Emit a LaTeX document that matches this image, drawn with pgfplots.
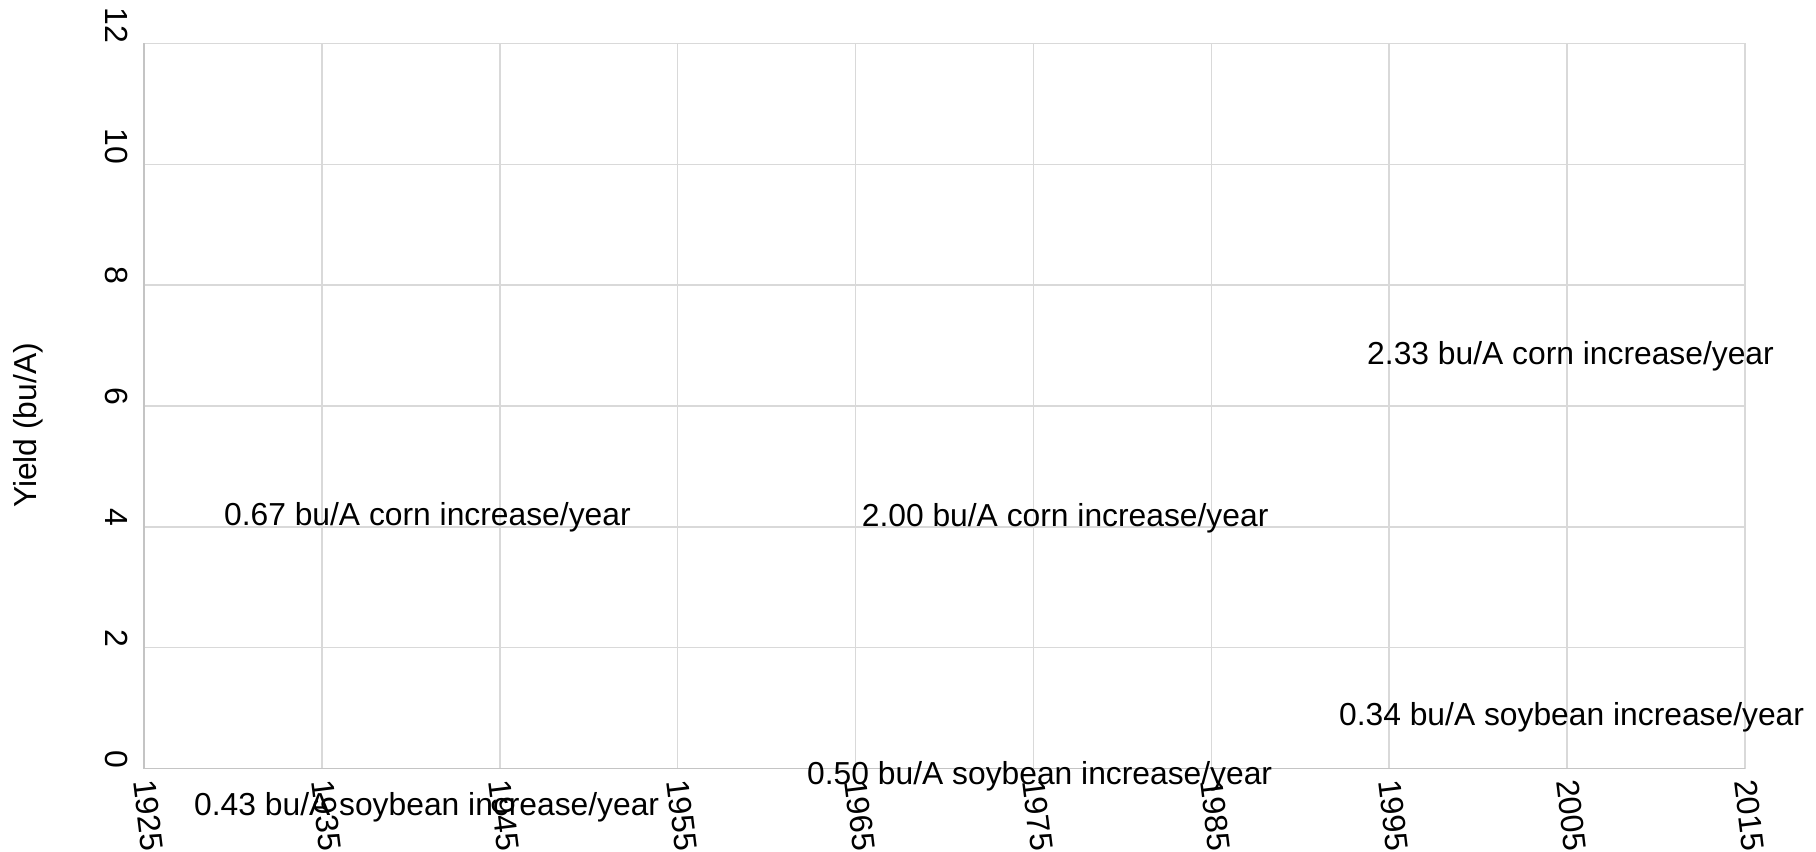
\documentclass[border=0pt]{standalone}
\usepackage{pgfplots}
\pgfplotsset{compat=1.18}
\usepackage{fontspec}
\setmainfont{Liberation Sans}
\definecolor{gridc}{HTML}{D9D9D9}
\definecolor{axisc}{HTML}{C4C4C4}
\begin{document}
\begin{tikzpicture}
\begin{axis}[
 scale only axis, width=800.5pt, height=362.5pt,
 xmin=1925, xmax=2015, ymin=0, ymax=12,
 xtick={1925,1935,...,2015}, ytick={0,2,...,12},
 axis x line=bottom, axis y line=left,
 axis line style={draw=axisc, line width=0.8pt, -},
 grid=major, major grid style={draw=gridc, line width=0.8pt},
 major tick length=0pt,
 /pgf/number format/assume math mode=true,
 /pgf/number format/1000 sep={},
 tick label style={font=\fontsize{16}{18}\selectfont, inner sep=0pt, text=black},
 xticklabel style={rotate=-83, anchor=west},
 yticklabel style={rotate=-90, anchor=north east},
 xticklabel shift=5.5pt, yticklabel shift=8pt,
 ylabel={Yield (bu/A)},
 ylabel style={at={(axis description cs:-0.0721,0.4731)}, anchor=center, font=\fontsize{15.9}{18}\selectfont},
 clip=false,
]
\node[anchor=base west, inner sep=0pt, font=\fontsize{15.9}{18}\selectfont] at (axis cs:1929.48,4.03) {0.67 bu/A corn increase/year};
\node[anchor=base west, inner sep=0pt, font=\fontsize{15.9}{18}\selectfont] at (axis cs:1965.33,4.00) {2.00 bu/A corn increase/year};
\node[anchor=base west, inner sep=0pt, font=\fontsize{15.9}{18}\selectfont] at (axis cs:1993.74,6.68) {2.33 bu/A corn increase/year};
\node[anchor=base west, inner sep=0pt, font=\fontsize{15.9}{18}\selectfont] at (axis cs:1992.16,0.72) {0.34 bu/A soybean increase/year};
\node[anchor=base west, inner sep=0pt, font=\fontsize{15.9}{18}\selectfont] at (axis cs:1927.80,-0.77) {0.43 bu/A soybean increase/year};
\node[anchor=base west, inner sep=0pt, font=\fontsize{15.9}{18}\selectfont] at (axis cs:1962.26,-0.27) {0.50 bu/A soybean increase/year};
\end{axis}
\pgfresetboundingbox
\path ([xshift=-72pt,yshift=-41.25pt]current axis.south west) rectangle ([xshift=35.5pt,yshift=21.75pt]current axis.north east);
\end{tikzpicture}
\end{document}
